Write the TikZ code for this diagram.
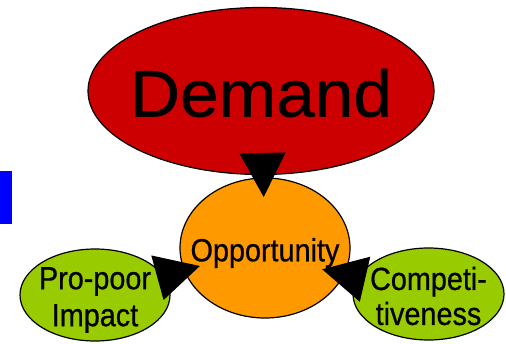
\documentclass[tikz,border=0pt]{standalone}
\usepackage{fontspec}
\setmainfont{Liberation Sans}
\newfontfamily\narrowsans[FakeStretch=0.9, FakeBold=0.6]{Liberation Sans}
\newfontfamily\widesans[FakeStretch=1.05, FakeBold=0.6]{Liberation Sans}
\usetikzlibrary{shapes, arrows.meta}

\definecolor{demandred}{RGB}{204,0,0}
\definecolor{opporange}{RGB}{255,153,0}
\definecolor{leafgreen}{RGB}{153,204,0}

\begin{document}
\begin{tikzpicture}[x=1pt, y=1pt,
oval/.style={ellipse, draw=black, line width=1.2pt, inner sep=0pt, outer sep=0pt},
link/.style={-{Triangle[length=44pt, width=46pt]}, line width=1pt}]
\tikzstyle{small}=[font=\narrowsans\fontsize{32}{37}\selectfont, align=center]
\useasboundingbox (0,0) rectangle (506,343);
%blue bar at the edge
\fill[blue] (0,119) rectangle (12,172);

%ovals
\node[oval, fill=demandred, minimum width=346pt, minimum height=167pt,
  label={[font=\widesans\fontsize{66}{70}\selectfont, yshift=-2pt]center:Demand}] (demand) at (261,252) {};
\node[oval, fill=opporange, minimum width=170pt, minimum height=140pt,
  label={[small, yshift=-5pt]center:Opportunity}] (opp) at (265,95) {};
\node[oval, fill=leafgreen, minimum width=150pt, minimum height=92pt,
  label={[small, yshift=-5pt]center:Pro-poor\\Impact}] (pp) at (95,48) {};
\node[oval, fill=leafgreen, minimum width=151pt, minimum height=92pt,
  label={[small, font=\narrowsans\fontsize{32}{35}\selectfont, yshift=-2pt]center:Competi-\\tiveness}] (comp) at (428.5,49) {};

%arrows into the opportunity
\draw[link, shorten >=-19pt] (demand) -- (opp);
\draw[link, shorten >=-16pt] (pp) -- (opp);
\draw[link, shorten >=58.7pt] (comp) -- ([yshift=-8pt]opp.center);
\end{tikzpicture}
\end{document}
